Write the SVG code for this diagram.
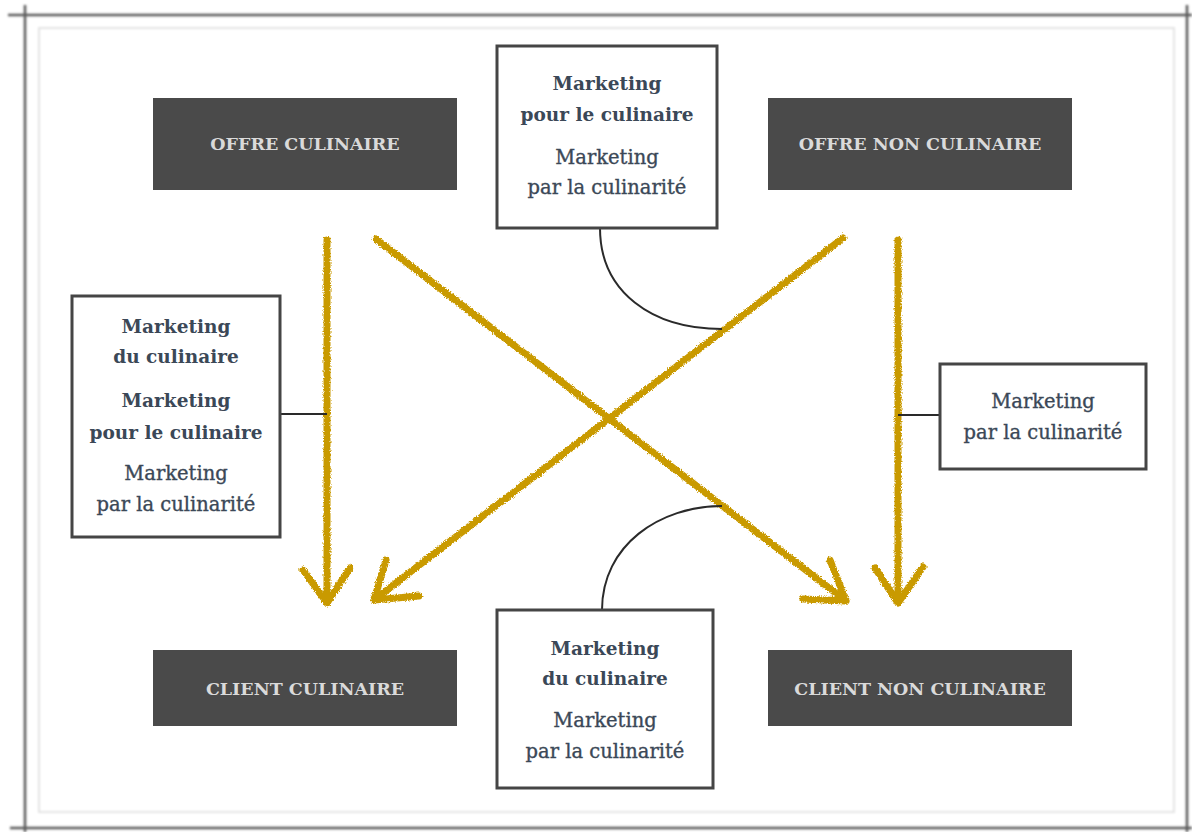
<svg xmlns="http://www.w3.org/2000/svg" width="1192" height="832" viewBox="0 0 1192 832">
<defs>
<filter id="rough" x="-5%" y="-5%" width="110%" height="110%">
<feTurbulence type="fractalNoise" baseFrequency="0.8" numOctaves="2" seed="3" result="n"/>
<feDisplacementMap in="SourceGraphic" in2="n" scale="4" xChannelSelector="R" yChannelSelector="G"/>
</filter>
<filter id="soft" x="-2%" y="-2%" width="104%" height="104%">
<feGaussianBlur stdDeviation="0.8"/>
</filter>
</defs>
<style>
.frame{stroke:#5a5a5a;stroke-width:2.5;fill:none}
.inner{stroke:#dcdcdc;stroke-width:1.5;fill:none}
.dark{fill:#4a4a4a}
.hdr{font-family:"DejaVu Serif",serif;font-weight:bold;font-size:17.5px;fill:#dadada;text-anchor:middle}
.box{fill:#fff;stroke:#454545;stroke-width:3}
.lb{font-family:"DejaVu Serif",serif;font-weight:bold;font-size:18.5px;fill:#3b4857;text-anchor:middle}
.lr{font-family:"DejaVu Serif",serif;font-size:19.5px;fill:#3b4857;stroke:#3b4857;stroke-width:0.35;text-anchor:middle}
.arw{stroke:#c99a06;stroke-width:7;fill:none;stroke-linecap:round;stroke-linejoin:round}
.conn{stroke:#2a2a2a;stroke-width:2;fill:none}
</style>
<rect width="1192" height="832" fill="#fff"/>
<g id="frame" filter="url(#soft)">
<line class="frame" x1="8" y1="15" x2="1192" y2="15"/>
<line class="frame" x1="10" y1="828" x2="1192" y2="828"/>
<line class="frame" x1="25" y1="5" x2="25" y2="832"/>
<line class="frame" x1="1187" y1="5" x2="1187" y2="832"/>
<rect class="inner" x="39" y="28" width="1135" height="784"/>
</g>
<g id="connectors">
<g filter="url(#rough)">
<path class="arw" d="M327,240 L327,603 M303,570 L327,603 L350,568"/>
<path class="arw" d="M898,240 L898,603 M875,568 L898,603 L923,567"/>
<path class="arw" d="M376,239 L846,601 M830,560 L846,601 L803,599"/>
<path class="arw" d="M843,238 L374,600 M386,560 L374,600 L419,596"/>
</g>
<path class="conn" d="M600,228 C600,292 652,329 722,329"/>
<path class="conn" d="M722,506 C660,506 602,545 602,610"/>
<line class="conn" x1="280" y1="414" x2="327" y2="414"/>
<line class="conn" x1="898" y1="415" x2="940" y2="415"/>
</g>
<g id="offre-culinaire">
<rect class="dark" x="153" y="98" width="304" height="92"/>
<text class="hdr" x="305" y="150">OFFRE CULINAIRE</text>
</g>
<g id="offre-non-culinaire">
<rect class="dark" x="768" y="98" width="304" height="92"/>
<text class="hdr" x="920" y="150">OFFRE NON CULINAIRE</text>
</g>
<g id="client-culinaire">
<rect class="dark" x="153" y="650" width="304" height="76"/>
<text class="hdr" x="305" y="695">CLIENT CULINAIRE</text>
</g>
<g id="client-non-culinaire">
<rect class="dark" x="768" y="650" width="304" height="76"/>
<text class="hdr" x="920" y="695">CLIENT NON CULINAIRE</text>
</g>
<g id="box-top">
<rect class="box" x="497" y="46" width="220" height="182"/>
<text class="lb" x="607" y="90">Marketing</text>
<text class="lb" x="607" y="121">pour le culinaire</text>
<text class="lr" x="607" y="164">Marketing</text>
<text class="lr" x="607" y="194">par la culinarité</text>
</g>
<g id="box-left">
<rect class="box" x="72" y="296" width="208" height="241"/>
<text class="lb" x="176" y="333">Marketing</text>
<text class="lb" x="176" y="363">du culinaire</text>
<text class="lb" x="176" y="407">Marketing</text>
<text class="lb" x="176" y="439">pour le culinaire</text>
<text class="lr" x="176" y="480">Marketing</text>
<text class="lr" x="176" y="511">par la culinarité</text>
</g>
<g id="box-right">
<rect class="box" x="940" y="364" width="206" height="105"/>
<text class="lr" x="1043" y="408">Marketing</text>
<text class="lr" x="1043" y="439">par la culinarité</text>
</g>
<g id="box-bottom">
<rect class="box" x="497" y="610" width="216" height="178"/>
<text class="lb" x="605" y="655">Marketing</text>
<text class="lb" x="605" y="685">du culinaire</text>
<text class="lr" x="605" y="727">Marketing</text>
<text class="lr" x="605" y="758">par la culinarité</text>
</g>
</svg>
